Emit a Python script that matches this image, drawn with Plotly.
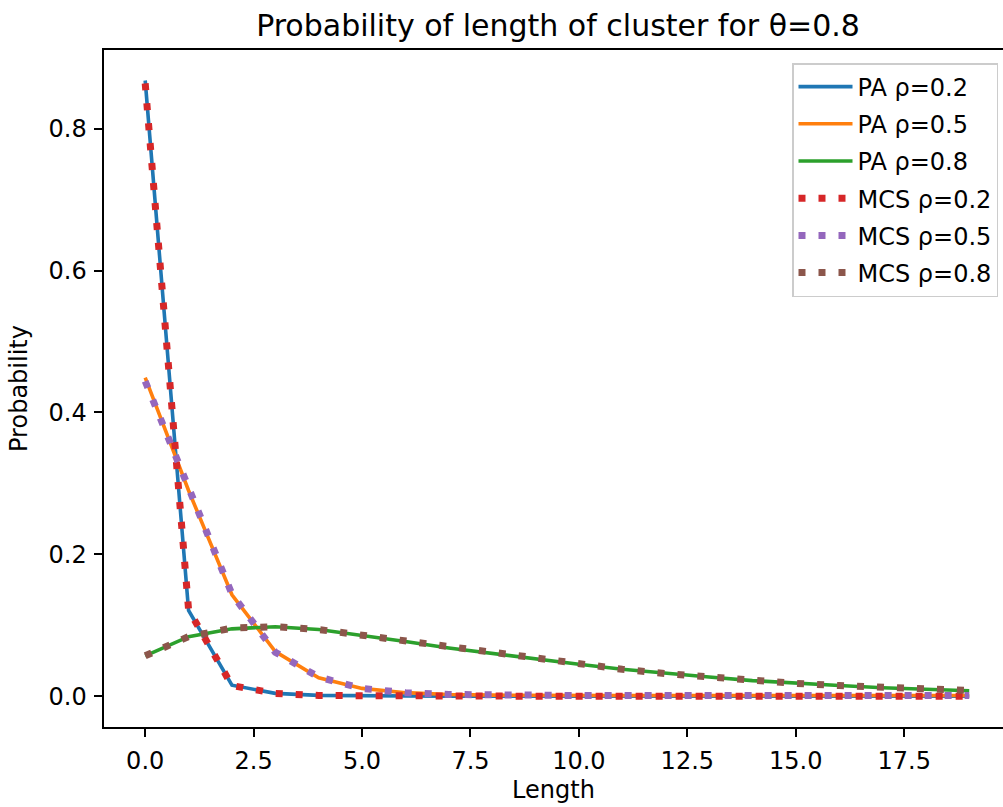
import plotly.graph_objects as go

lengths = list(range(20))

pa_rho02 = [0.868, 0.121, 0.0155, 0.004, 0.0012, 0.0004, 0.0001, 0, 0, 0,
            0, 0, 0, 0, 0, 0, 0, 0, 0, 0]
pa_rho05 = [0.449, 0.290, 0.143, 0.063, 0.026, 0.011, 0.005, 0.0025, 0.0015, 0.001,
            0.001, 0.001, 0.001, 0.001, 0.001, 0.001, 0.001, 0.001, 0.001, 0.001]
pa_rho08 = [0.057, 0.084, 0.095, 0.098, 0.094, 0.086, 0.077, 0.068, 0.060, 0.052,
            0.045, 0.038, 0.032, 0.027, 0.022, 0.018, 0.015, 0.012, 0.0095, 0.0078]

mcs_rho02 = [0.864, 0.122, 0.015, 0.004, 0.001, 0.0004, 0.0001, 0, 0, 0,
             0, 0, 0, 0, 0, 0, 0, 0, 0, 0]
mcs_rho05 = [0.444, 0.292, 0.144, 0.062, 0.027, 0.011, 0.005, 0.0025, 0.0015, 0.001,
             0.001, 0.001, 0.001, 0.001, 0.001, 0.001, 0.001, 0.001, 0.001, 0.001]
mcs_rho08 = [0.057, 0.084, 0.096, 0.098, 0.094, 0.086, 0.077, 0.068, 0.060, 0.052,
             0.045, 0.038, 0.032, 0.027, 0.022, 0.018, 0.015, 0.012, 0.0095, 0.008]

series = [
    ("PA ρ=0.2", pa_rho02, "#1f77b4", "solid"),
    ("PA ρ=0.5", pa_rho05, "#ff7f0e", "solid"),
    ("PA ρ=0.8", pa_rho08, "#2ca02c", "solid"),
    ("MCS ρ=0.2", mcs_rho02, "#d62728", "dot"),
    ("MCS ρ=0.5", mcs_rho05, "#9467bd", "dot"),
    ("MCS ρ=0.8", mcs_rho08, "#8c564b", "dot"),
]

FONT = "DejaVu Sans, Verdana, sans-serif"
FS = 24

fig = go.Figure()
for i, (name, vals, color, style) in enumerate(series):
    if style == "solid":
        line = dict(color=color, width=3.6)
    else:
        line = dict(color=color, width=7, dash="7px,13px")
    fig.add_trace(go.Scatter(x=lengths, y=vals, mode="lines", name=name,
                             line=line, legendgroup=f"g{i}"))

W, H = 1003, 807
L, T, B = 104, 50, 80
ppu = 43.37
xmin = -0.95
xmax = xmin + (W - L) / ppu

fig.update_layout(
    width=W, height=H,
    margin=dict(l=L, r=0, t=T, b=B, pad=0),
    paper_bgcolor="white", plot_bgcolor="white",
    font=dict(family=FONT, size=FS, color="black"),
    title=dict(text="Probability of length of cluster for θ=0.8",
               x=558 / W, xanchor="center", xref="container",
               y=1 - 25 / H, yanchor="middle",
               font=dict(family=FONT, size=30, color="black")),
    showlegend=True,
    legend=dict(x=(998 - L) / (W - L), xanchor="right",
                y=1 - (63 - T) / (H - T - B), yanchor="top",
                bgcolor="rgba(255,255,255,0.8)", bordercolor="#cccccc", borderwidth=1.5,
                font=dict(family=FONT, size=FS, color="black"),
                tracegroupgap=3, itemwidth=54),
    xaxis=dict(range=[xmin, xmax], tick0=0, dtick=2.5, tickformat=".1f",
               showgrid=False, zeroline=False,
               showline=True, linecolor="black", linewidth=1.9, mirror=True,
               ticks="outside", ticklen=8.5, tickwidth=1.9, tickcolor="black",
               ticklabelstandoff=3,
               title=dict(text="Length", standoff=7, font=dict(size=FS))),
    yaxis=dict(range=[-0.0434, 0.911], tick0=0, dtick=0.2, tickformat=".1f",
               showgrid=False, zeroline=False,
               showline=True, linecolor="black", linewidth=1.9, mirror=False,
               ticks="outside", ticklen=8.5, tickwidth=1.9, tickcolor="black",
               ticklabelstandoff=2,
               title=dict(text="Probability", standoff=14, font=dict(size=FS))),
)

fig.write_html("out.html")
